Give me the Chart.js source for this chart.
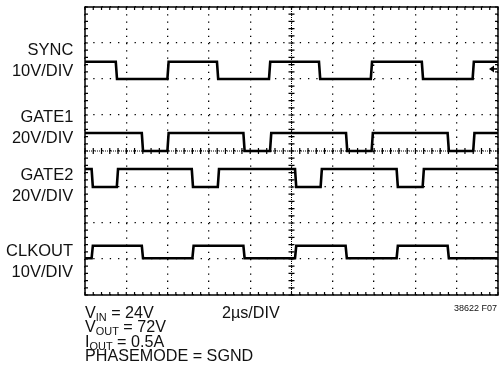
<!DOCTYPE html>
<html>
<head>
<meta charset="utf-8">
<script src="https://cdn.jsdelivr.net/npm/chart.js@4"></script>
<style>
  html, body { margin: 0; padding: 0; background: #fff; }
  #wrap { position: relative; width: 500px; height: 390px; }
  canvas { position: absolute; left: 0; top: 0; }
  .lbl {
    position: absolute;
    font-family: "Liberation Sans Narrow", "Arial Narrow", "Liberation Sans", sans-serif;
    color: #111;
    white-space: nowrap;
  }
  .side { right: 427px; text-align: right; font-size: 17px; line-height: 21px; transform: scaleX(0.97); transform-origin: right top; }
  .cond { left: 85px; top: 306px; font-size: 17px; line-height: 14.3px; transform: scaleX(0.95); transform-origin: left top; }
  .cond sub { font-size: 11.5px; vertical-align: -3px; line-height: 0; }
  .time { left: 222px; top: 306px; font-size: 17px; line-height: 14px; transform: scaleX(0.95); transform-origin: left top; }
  .fig { right: 3px; top: 303px; font-size: 9px; line-height: 10px; }
</style>
</head>
<body>
<div id="wrap">
  <canvas id="scope" width="500" height="390"></canvas>
  <div class="lbl side" style="top:39px">SYNC<br>10V/DIV</div>
  <div class="lbl side" style="top:106px">GATE1<br>20V/DIV</div>
  <div class="lbl side" style="top:164px">GATE2<br>20V/DIV</div>
  <div class="lbl side" style="top:240px">CLKOUT<br>10V/DIV</div>
  <div class="lbl cond">V<sub>IN</sub> = 24V<br>V<sub>OUT</sub> = 72V<br>I<sub>OUT</sub> = 0.5A<br>PHASEMODE = SGND</div>
  <div class="lbl time">2µs/DIV</div>
  <div class="lbl fig">38622 F07</div>
</div>
<script>
// screen: 10 horizontal divisions of 2us, 8 vertical divisions
const timeSpan = [0, 20];
const divSpan = [0, 8];

// edge times in us, levels in divisions (low, high), starting state
const syncEdges = [1.49, 3.99, 6.39, 8.91, 11.33, 13.84, 16.31, 18.77];
const syncLevels = [6.0, 6.48];
const syncStartHigh = true;

const gate1Edges = [2.75, 3.99, 7.67, 8.96, 12.64, 13.88, 17.56, 18.80];
const gate1Levels = [4.0, 4.5];
const gate1StartHigh = true;

const gate2Edges = [0.32, 1.54, 5.17, 6.43, 10.17, 11.41, 15.09, 16.35];
const gate2Levels = [3.0, 3.5];
const gate2StartHigh = true;

const clkEdges = [0.32, 2.75, 5.20, 7.67, 10.17, 12.62, 15.09, 17.56];
const clkLevels = [1.02, 1.37];
const clkStartHigh = false;

const triggerLevel = 6.28;
const edgeTime = 0.06;

function toPoints(edges, levels, startHigh) {
  let high = startHigh;
  const pts = [{ x: timeSpan[0], y: high ? levels[1] : levels[0] }];
  edges.forEach(t => {
    pts.push({ x: t, y: high ? levels[1] : levels[0] });
    high = !high;
    pts.push({ x: t + edgeTime, y: high ? levels[1] : levels[0] });
  });
  pts.push({ x: timeSpan[1], y: high ? levels[1] : levels[0] });
  return pts;
}

function trace(label, pts) {
  return {
    label,
    data: pts,
    borderColor: '#000',
    borderWidth: 2.6,
    pointRadius: 0,
    tension: 0,
    fill: false,
    borderJoinStyle: 'miter'
  };
}

// frame, centre crosshair ticks and trigger arrow
const scopeDecor = {
  id: 'scopeDecor',
  beforeDatasetsDraw(chart) {
    const { ctx, chartArea: a, scales: { x, y } } = chart;
    const cx = x.getPixelForValue(10);
    const cy = y.getPixelForValue(4);
    ctx.save();
    ctx.strokeStyle = '#000';

    // dense dotted centre lines
    ctx.lineWidth = 1;
    ctx.setLineDash([1, 1]);
    ctx.beginPath();
    ctx.moveTo(a.left, cy); ctx.lineTo(a.right, cy);
    ctx.moveTo(cx, a.top); ctx.lineTo(cx, a.bottom);
    ctx.stroke();
    ctx.setLineDash([]);

    // minor ticks, 5 per division
    ctx.lineWidth = 1.2;
    ctx.beginPath();
    for (let i = 0; i <= 50; i++) {
      const px = x.getPixelForValue(i * 0.4);
      ctx.moveTo(px, cy - 3); ctx.lineTo(px, cy + 3);
      ctx.moveTo(px, a.top); ctx.lineTo(px, a.top + 3);
      ctx.moveTo(px, a.bottom); ctx.lineTo(px, a.bottom - 3);
    }
    for (let j = 0; j <= 40; j++) {
      const py = y.getPixelForValue(j * 0.2);
      ctx.moveTo(cx - 3, py); ctx.lineTo(cx + 3, py);
      ctx.moveTo(a.left, py); ctx.lineTo(a.left + 3, py);
      ctx.moveTo(a.right, py); ctx.lineTo(a.right - 3, py);
    }
    ctx.stroke();

    // frame
    ctx.lineWidth = 1.5;
    ctx.strokeRect(a.left, a.top, a.right - a.left, a.bottom - a.top);
    ctx.restore();
  },
  afterDatasetsDraw(chart) {
    const { ctx, chartArea: a, scales: { y } } = chart;
    const ty = y.getPixelForValue(triggerLevel);
    ctx.save();
    ctx.fillStyle = '#000';
    ctx.strokeStyle = '#000';
    ctx.lineWidth = 1.6;
    ctx.beginPath();
    ctx.moveTo(a.right - 1, ty); ctx.lineTo(a.right - 6, ty);
    ctx.stroke();
    ctx.beginPath();
    ctx.moveTo(a.right - 9, ty);
    ctx.lineTo(a.right - 4, ty - 3.5);
    ctx.lineTo(a.right - 4, ty + 3.5);
    ctx.closePath();
    ctx.fill();
    ctx.restore();
  }
};

new Chart(document.getElementById('scope'), {
  type: 'line',
  data: {
    datasets: [
      trace('SYNC', toPoints(syncEdges, syncLevels, syncStartHigh)),
      trace('GATE1', toPoints(gate1Edges, gate1Levels, gate1StartHigh)),
      trace('GATE2', toPoints(gate2Edges, gate2Levels, gate2StartHigh)),
      trace('CLKOUT', toPoints(clkEdges, clkLevels, clkStartHigh))
    ]
  },
  options: {
    responsive: false,
    animation: false,
    events: [],
    layout: { padding: { left: 85, right: 2, top: 7, bottom: 95 } },
    plugins: { legend: { display: false }, tooltip: { enabled: false } },
    scales: {
      x: {
        type: 'linear',
        min: timeSpan[0],
        max: timeSpan[1],
        ticks: { display: false, stepSize: 2 },
        grid: { color: '#000', lineWidth: 1.3, drawTicks: false },
        border: { display: false, dash: [1.3, 5.9] }
      },
      y: {
        type: 'linear',
        min: divSpan[0],
        max: divSpan[1],
        ticks: { display: false, stepSize: 1 },
        grid: { color: '#000', lineWidth: 1.3, drawTicks: false },
        border: { display: false, dash: [1.3, 6.96] }
      }
    }
  },
  plugins: [scopeDecor]
});
</script>
</body>
</html>
